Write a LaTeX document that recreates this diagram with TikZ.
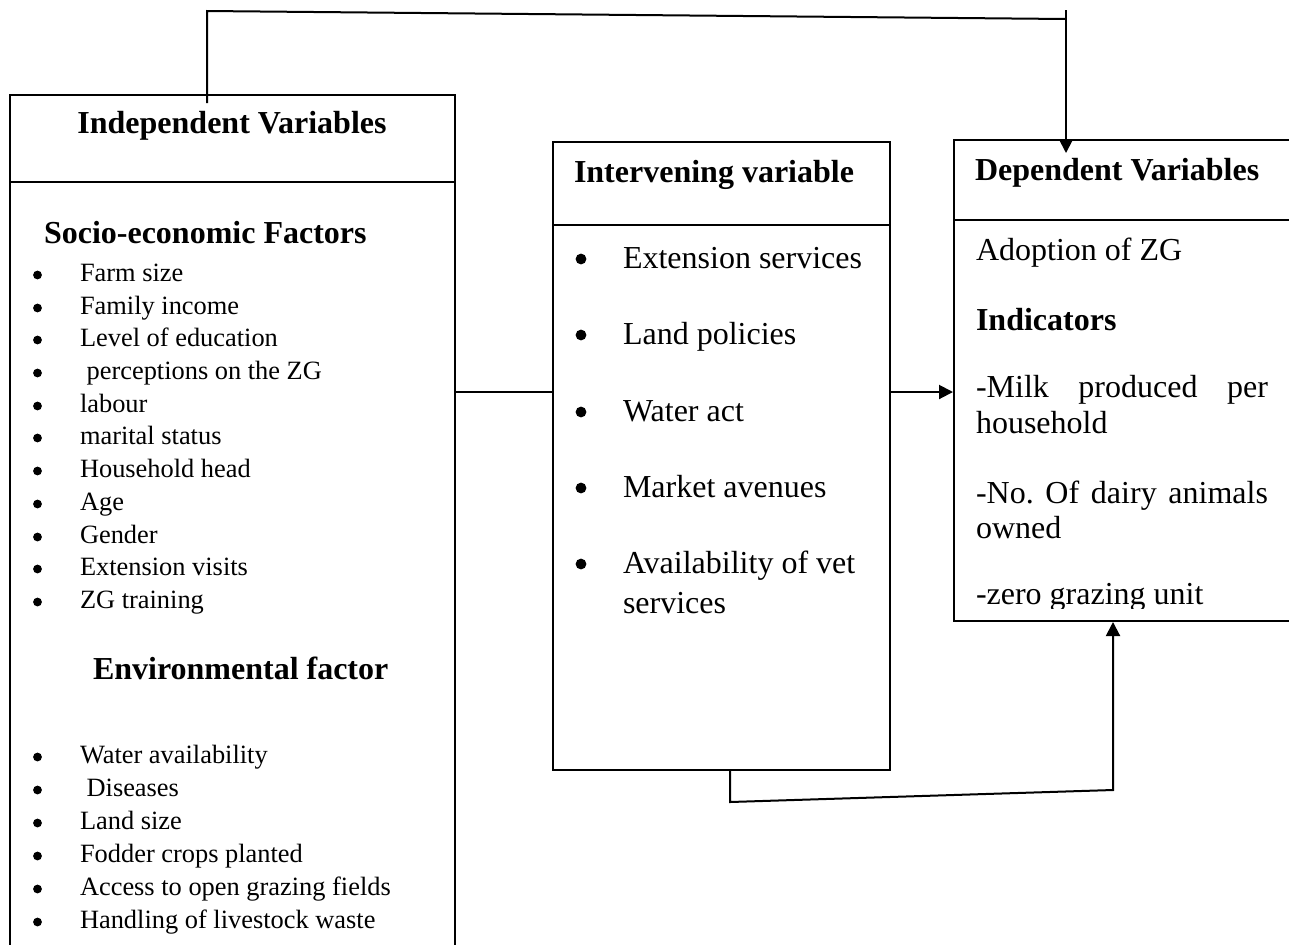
\documentclass[tikz,border=0pt]{standalone}
\usepackage{fontspec}
\setmainfont{Liberation Serif}
\usetikzlibrary{arrows.meta}
\frenchspacing

\begin{document}
\begin{tikzpicture}[x=0.5pt,y=-0.5pt,line width=1pt,
  box/.style={draw},
  arr/.style={-{Triangle[length=7pt,width=7pt]}},
  head/.style={anchor=base west, font=\fontsize{16pt}{19pt}\selectfont\bfseries},
  big/.style={anchor=base west, font=\fontsize{16pt}{19pt}\selectfont},
  small/.style={anchor=base west, font=\fontsize{13.2pt}{16pt}\selectfont}]
\tikzstyle{every node}+=[inner sep=0pt]
\useasboundingbox (0,0) rectangle (1289,944);
\clip (0,0) rectangle (1289,944);
% the three boxes
\node[box, minimum width=222.5pt, minimum height=432.5pt] (indep) at (232.5,527.5) {};
\node[box, minimum width=168.5pt, minimum height=314pt] (interv) at (721.5,456) {};
\node[box, minimum width=173pt, minimum height=240.5pt] (dep) at (1127,380.5) {};
\draw (10,182) -- (455,182);
\draw (553,225) -- (890,225);
\draw (954,220) -- (1300,220);
% independent variables
\node[head, anchor=base] (indephead) at (232,133) {Independent Variables};
\node[head] (socio) at (43,243) {Socio-economic Factors};
\node[small] (s1) at (79,281) {Farm size};
\node[small] (s2) at (79,314) {Family income};
\node[small] (s3) at (79,346) {Level of education};
\node[small] (s4) at (79,379) {\ perceptions on the ZG};
\node[small] (s5) at (79,412) {labour};
\node[small] (s6) at (79,444) {marital status};
\node[small] (s7) at (79,477) {Household head};
\node[small] (s8) at (79,510) {Age};
\node[small] (s9) at (79,543) {Gender};
\node[small] (s10) at (79,575) {Extension visits};
\node[small] (s11) at (79,608) {ZG training};
\node[head] (env) at (92,679) {Environmental factor};
\node[small] (e1) at (79,763) {Water availability};
\node[small] (e2) at (79,796) {\ Diseases};
\node[small] (e3) at (79,829) {Land size};
\node[small] (e4) at (79,862) {Fodder crops planted};
\node[small] (e5) at (79,895) {Access to open grazing fields};
\node[small] (e6) at (79,928) {Handling of livestock waste};
\foreach \y in {281,314,346,379,412,444,477,510,543,575,608,763,796,829,862,895,928}
  \fill (37.5,\y-6) circle (2.2pt);
% intervening variable
\node[head] (intervhead) at (573,182) {Intervening variable};
\node[big] (v1) at (622,268) {Extension services};
\node[big] (v2) at (622,344) {Land policies};
\node[big] (v3) at (622,421) {Water act};
\node[big] (v4) at (622,497) {Market avenues};
\node[big] (v5) at (622,573) {Availability of vet};
\node[big] (v5b) at (622,613) {services};
\foreach \y in {268,344,421,497,573}
  \fill (581,\y-9) circle (2.7pt);
% dependent variables
\node[head] (dephead) at (974,180) {Dependent Variables};
\node[big] (adopt) at (975,260) {Adoption of ZG};
\node[head] (indic) at (975,330) {Indicators};
\node[big] (k1a) at (975,397) {\makebox[146pt][s]{-Milk produced per}};
\node[big] (k1b) at (975,433) {household};
\node[big] (k2a) at (975,503) {\makebox[146pt][s]{-No. Of dairy animals}};
\node[big] (k2b) at (975,538) {owned};
\begin{scope}
\clip (954,140) rectangle (1289,608);
\node[big] (k3) at (975,604) {-zero grazing unit};
\end{scope}
% connectors
\coordinate (t0) at (207,103);
\coordinate (t1) at (207,11);
\coordinate (t2) at (1066,19);
\coordinate (t3) at (1066,10);
\draw (t0) -- (t1) -- (t2);
\draw[arr, shorten >=-7pt] (t3) -- (dep.north -| t3);
\coordinate (m) at (0,392);
\draw (indep.east |- m) -- (interv.west |- m);
\draw[arr] (interv.east |- m) -- (dep.west |- m);
\coordinate (b1) at (730,802);
\coordinate (b2) at (1113,790);
\draw[arr] (interv.south -| b1) -- (b1) -- (b2) -- (dep.south -| b2);
\end{tikzpicture}
\end{document}
